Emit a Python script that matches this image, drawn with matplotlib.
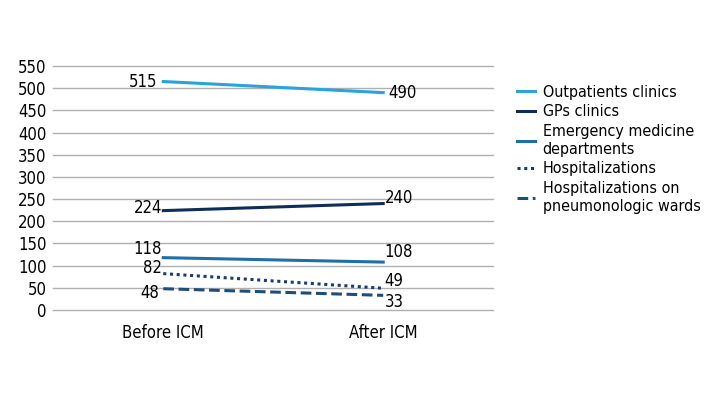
import matplotlib.pyplot as plt

plt.rcParams['font.family'] = ['DejaVu Sans']
plt.rcParams['font.stretch'] = 'condensed'

categories = ['Before ICM', 'After ICM']
series_names = ['Outpatients clinics', 'GPs clinics', 'Emergency medicine\ndepartments',
                'Hospitalizations', 'Hospitalizations on\npneumonologic wards']
outpatients = [515, 490]
gps = [224, 240]
emergency = [118, 108]
hospitalizations = [82, 49]
pneumo = [48, 33]

values = [outpatients, gps, emergency, hospitalizations, pneumo]
colors = ['#29a3db', '#0f2e57', '#1f6ea6', '#1a3c6b', '#1f4d7a']
styles = ['-', '-', '-', (0, (1, 1.2)), (0, (3.5, 1.5))]
# label offsets (points) for left / right ends
left_off = [(-4, 0), (-1, 2), (-1, 6), (-1, 4), (-3, -3)]
right_off = [(4, 0), (1, 4), (1, 7), (1, 5), (1, -5)]

fig = plt.figure(figsize=(7.2, 4), dpi=100)
ax = fig.add_axes([0.074, 0.225, 0.611, 0.61])

x = [0, 1]
for i, vals in enumerate(values):
    ax.plot(x, vals, color=colors[i], linestyle=styles[i], linewidth=2.2,
            label=series_names[i])
    ax.annotate(str(vals[0]), (x[0], vals[0]), xytext=left_off[i],
                textcoords='offset points', ha='right', va='center', fontsize=12)
    ax.annotate(str(vals[1]), (x[1], vals[1]), xytext=right_off[i],
                textcoords='offset points', ha='left', va='center', fontsize=12)

ax.set_xlim(-0.5, 1.5)
ax.set_ylim(0, 550)
ax.set_yticks(range(0, 551, 50))
ax.set_xticks(x)
ax.set_xticklabels(categories, fontsize=12)
ax.tick_params(axis='y', labelsize=12, length=0, pad=5)
ax.tick_params(axis='x', length=0, pad=10)
ax.grid(axis='y', color='#b0b0b0', linewidth=1)
ax.set_axisbelow(True)
for gl in ax.get_ygridlines():
    gl.set_clip_on(False)
for s in ax.spines.values():
    s.set_visible(False)

leg = ax.legend(loc='upper left', bbox_to_anchor=(1.04, 0.95), frameon=False,
                fontsize=11.5, handlelength=1.1, handletextpad=0.5,
                labelspacing=0.3, borderaxespad=0)

fig.savefig('out.png', dpi=100)
